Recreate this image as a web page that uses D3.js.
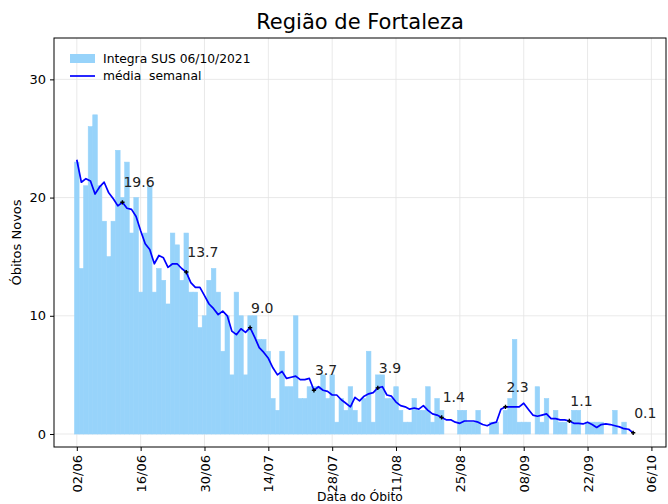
<!DOCTYPE html>
<html>
<head>
<meta charset="utf-8">
<script src="https://cdn.jsdelivr.net/npm/d3@7"></script>
<style>
  body { margin: 0; background: #fff; }
  svg { display: block; font-family: "DejaVu Sans", sans-serif; }
</style>
</head>
<body>
<div id="chart"></div>
<script>
// daily deaths (Integra SUS), one value per day from 02/06/2021
const startDay = "2021-06-02";
const obitos = [
  23, 14, 21, 26, 27, 21, 18, 15, 18, 24, 20, 23, 17, 20, 12, 17, 21, 12, 14, 13,
  11, 17, 16, 13, 17, 12, 12, 9, 10, 13, 14, 12, 7, 10, 5, 12, 10, 5, 10, 10,
  8, 8, 7, 3, 2, 7, 4, 4, 10, 3, 3, 4, 4, 4, 5, 3, 5, 1, 3, 2,
  4, 2, 1, 3, 7, 1, 5, 5, 3, 3, 4, 2, 1, 1, 3, 2, 2, 4, 1, 3,
  2, 0, 0, 0, 2, 2, 1, 1, 2, 0, 0, 1, 1, 0, 2, 3, 8, 1, 1, 1,
  0, 4, 1, 3, 0, 2, 1, 1, 0, 2, 2, 0, 1, 1, 1, 1, 0, 0, 2, 0,
  1, 0, 0
];
// 7-day (centred) average as drawn
const mediaSemanal = [
  23.2, 21.3, 21.6, 21.4, 20.3, 20.9, 21.3, 20.4, 19.9, 19.3, 19.6, 19.1, 19.0, 18.4, 17.2, 16.1, 15.6, 14.4, 15.1, 14.9,
  14.1, 14.4, 14.4, 14.0, 13.7, 12.8, 12.4, 12.4, 11.7, 11.0, 10.6, 10.1, 10.4, 10.0, 8.7, 8.4, 8.9, 8.6, 9.0, 8.2,
  7.3, 6.9, 6.4, 5.6, 5.0, 5.3, 4.7, 4.8, 4.9, 4.6, 4.6, 4.7, 3.7, 4.0, 3.7, 3.6, 3.3, 3.3, 2.9, 2.6,
  2.3, 3.1, 2.8, 3.2, 3.4, 3.5, 3.9, 4.0, 3.3, 3.2, 2.7, 2.4, 2.3, 2.1, 2.2, 2.1, 2.4, 2.0, 1.7, 1.6,
  1.4, 1.2, 1.2, 1.0, 0.9, 1.1, 1.1, 1.1, 1.0, 0.8, 0.7, 0.9, 1.0, 2.1, 2.3, 2.3, 2.3, 2.3, 2.6, 2.1,
  1.6, 1.5, 1.6, 1.7, 1.3, 1.3, 1.2, 1.2, 1.1, 0.9, 0.9, 0.85, 1.0, 0.8, 0.55, 0.8, 0.85, 0.8, 0.7, 0.6,
  0.45, 0.4, 0.1
];
const xTickLabels = ["02/06", "16/06", "30/06", "14/07", "28/07", "11/08", "25/08", "08/09", "22/09", "06/10"];
const yTicks = [0, 10, 20, 30];
const annotStep = 14; // a label every two weeks, counted back from the last day

const width = 668, height = 504;
const box = { left: 54, right: 666, top: 38, bottom: 447 };
const DAY = 864e5;
const t0 = new Date(startDay + "T00:00:00Z");
const dayDate = (i) => new Date(t0.getTime() + i * DAY);

const svg = d3.select("#chart").append("svg")
  .attr("width", width)
  .attr("height", height);

const x = d3.scaleUtc()
  .domain([dayDate(-5), dayDate(129.2)])
  .range([box.left, box.right]);

const y = d3.scaleLinear()
  .domain([-1.1, 33.5])
  .range([box.bottom, box.top]);

const tickDates = xTickLabels.map((s, i) => dayDate(i * 14));

// grid
const grid = svg.append("g").attr("stroke", "#e3e3e3").attr("stroke-width", 0.8);
grid.selectAll("line.gx").data(tickDates).join("line")
  .attr("x1", (d) => x(d)).attr("x2", (d) => x(d))
  .attr("y1", box.top).attr("y2", box.bottom);
grid.selectAll("line.gy").data(yTicks).join("line")
  .attr("x1", box.left).attr("x2", box.right)
  .attr("y1", (d) => y(d)).attr("y2", (d) => y(d));

// bars (thin stroke of the same colour hides the seams between them)
const barW = x(dayDate(1)) - x(dayDate(0));
svg.append("g")
  .attr("fill", "#97d3fa")
  .attr("stroke", "#97d3fa")
  .attr("stroke-width", 0.6)
  .selectAll("rect")
  .data(obitos.map((v, i) => ({ v, i })).filter((d) => d.v > 0))
  .join("rect")
  .attr("x", (d) => x(dayDate(d.i)) - barW / 2)
  .attr("width", barW)
  .attr("y", (d) => y(d.v))
  .attr("height", (d) => y(0) - y(d.v));

// weekly mean line
const line = d3.line()
  .x((d, i) => x(dayDate(i)))
  .y((d) => y(d));

svg.append("path")
  .datum(mediaSemanal)
  .attr("fill", "none")
  .attr("stroke", "#0000ff")
  .attr("stroke-width", 1.7)
  .attr("stroke-linejoin", "round")
  .attr("d", line);

// annotations
const last = mediaSemanal.length - 1;
const annot = d3.range(last, -1, -annotStep).reverse().map((i) => ({ i, v: mediaSemanal[i] }));
const ann = svg.append("g");
ann.selectAll("path")
  .data(annot)
  .join("path")
  .attr("transform", (d) => `translate(${x(dayDate(d.i))},${y(d.v)})`)
  .attr("d", d3.symbol(d3.symbolCross, 10))
  .attr("fill", "#000");
ann.selectAll("text")
  .data(annot)
  .join("text")
  .attr("x", (d) => x(dayDate(d.i)) + 1)
  .attr("y", (d) => y(d.v) - 15)
  .attr("font-size", 14)
  .attr("fill", "#222")
  .text((d) => d.v.toFixed(1));

// frame
svg.append("rect")
  .attr("x", box.left).attr("y", box.top)
  .attr("width", box.right - box.left).attr("height", box.bottom - box.top)
  .attr("fill", "none").attr("stroke", "#000").attr("stroke-width", 1);

// y axis
const yAxis = svg.append("g").attr("transform", `translate(${box.left},0)`)
  .call(d3.axisLeft(y).tickValues(yTicks).tickSize(4).tickPadding(4).tickFormat(d3.format("d")));
yAxis.select(".domain").remove();
yAxis.selectAll("text").attr("font-size", 13).attr("fill", "#000").attr("font-family", "DejaVu Sans");

// x axis
const xAxis = svg.append("g").attr("transform", `translate(0,${box.bottom})`)
  .call(d3.axisBottom(x).tickValues(tickDates).tickSize(4).tickFormat((d, i) => xTickLabels[i]));
xAxis.select(".domain").remove();
xAxis.selectAll("text")
  .attr("font-size", 13)
  .attr("font-family", "DejaVu Sans")
  .attr("fill", "#000")
  .attr("transform", "rotate(-90)")
  .attr("text-anchor", "end")
  .attr("x", -8)
  .attr("y", 0)
  .attr("dy", "0.35em");

// labels
svg.append("text")
  .attr("x", (box.left + box.right) / 2).attr("y", 29)
  .attr("text-anchor", "middle").attr("font-size", 21)
  .text("Região de Fortaleza");

svg.append("text")
  .attr("x", (box.left + box.right) / 2).attr("y", 501)
  .attr("text-anchor", "middle").attr("font-size", 12.3)
  .text("Data do Óbito");

svg.append("text")
  .attr("transform", `translate(21,${(box.top + box.bottom) / 2}) rotate(-90)`)
  .attr("text-anchor", "middle").attr("font-size", 13)
  .text("Óbitos Novos");

// legend
const lg = svg.append("g").attr("font-size", 12.3);
lg.append("rect").attr("x", 70).attr("y", 54).attr("width", 25).attr("height", 9).attr("fill", "#97d3fa");
lg.append("text").attr("x", 103).attr("y", 63).text("Integra SUS 06/10/2021");
lg.append("line").attr("x1", 70).attr("x2", 95).attr("y1", 76).attr("y2", 76)
  .attr("stroke", "#0000ff").attr("stroke-width", 1.7);
lg.append("text").attr("x", 103).attr("y", 80).attr("xml:space", "preserve").text("média  semanal");
</script>
</body>
</html>
